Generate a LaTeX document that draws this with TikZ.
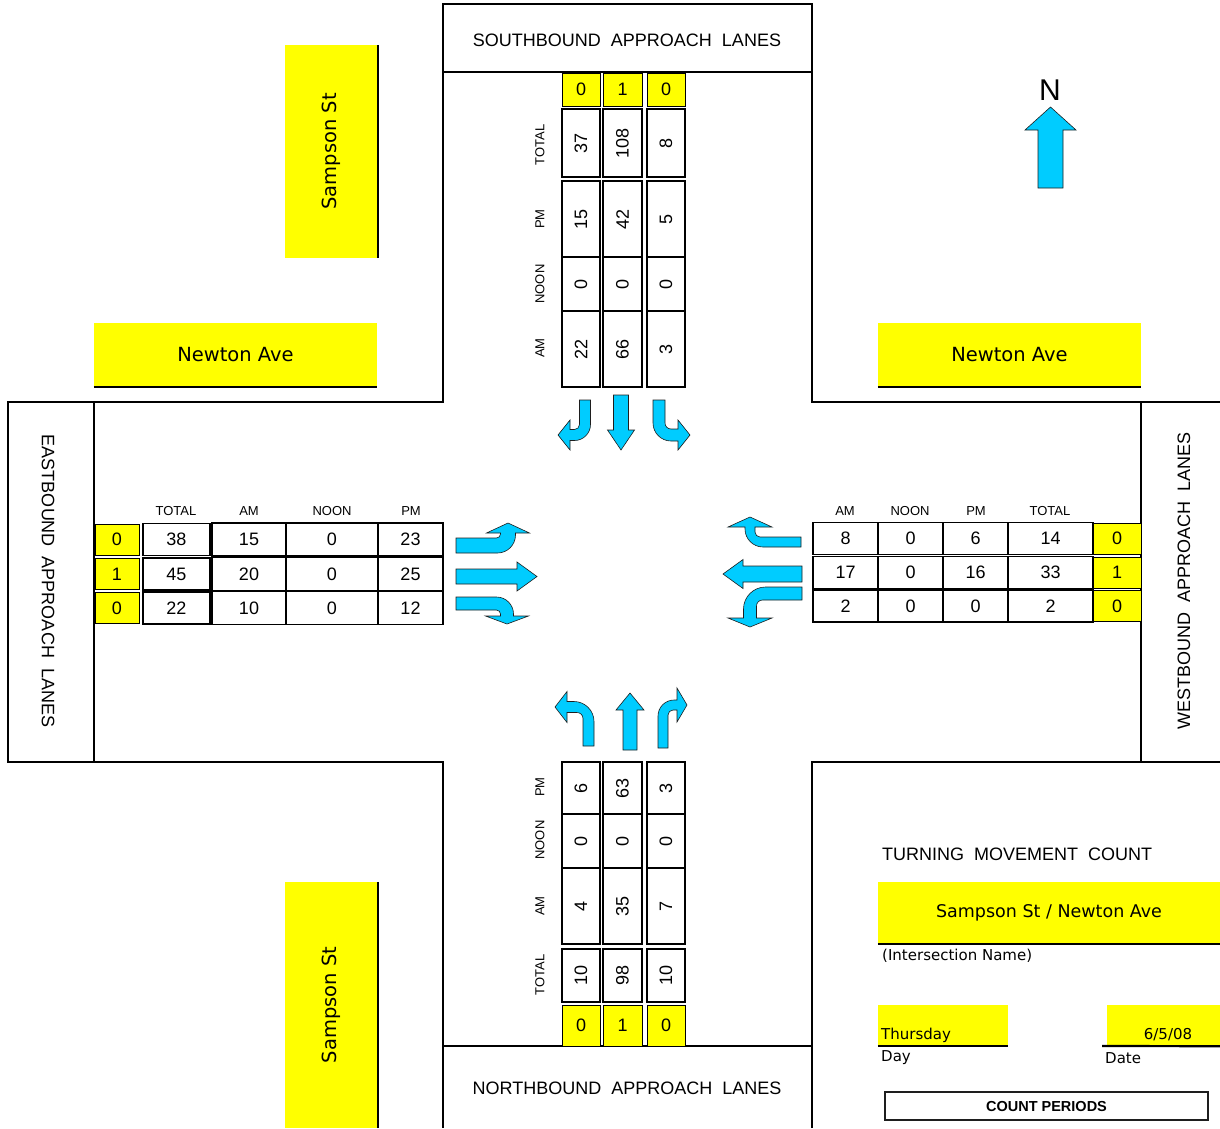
\documentclass[tikz,border=0pt]{standalone}
\usepackage{fontspec}
\setmainfont{Liberation Sans}
\newfontfamily\streetfont{DejaVu Sans}
\usetikzlibrary{positioning}
\definecolor{roadyellow}{RGB}{255,255,0}
\definecolor{arrowcyan}{RGB}{0,204,255}
\definecolor{inkgray}{RGB}{30,30,30}
\tikzset{
    road/.style={draw=black, line width=1.1pt},
    cell/.style={draw=black, line width=1.8pt, inner sep=0pt, font=\fontsize{18}{18}\selectfont},
    lanecell/.style={fill=roadyellow, draw=black, line width=0.4pt, inner sep=0pt, font=\fontsize{18}{18}\selectfont},
    head/.style={inner sep=0pt, font=\fontsize{13}{13}\selectfont},
    street/.style={fill=roadyellow, inner sep=0pt, font=\streetfont\fontsize{19.5}{19.5}\selectfont},
    curb/.style={draw=black, line width=2.2pt},
    title/.style={inner sep=0pt, font=\fontsize{18}{18}\selectfont},
    formtext/.style={inner sep=0pt, font=\streetfont\fontsize{15}{15}\selectfont},
    flow/.style={fill=arrowcyan, draw=inkgray, line width=0.6pt},
}
% turning arrow: transform, shaft half width, length, reach, head half width, head length, outer and inner radius
\newcommand{\turnarrow}[8]{%
    \begin{scope}[#1]
        \draw[flow] (-#2,0) -- (#2,0) -- (#2,{-#3-#2+#7})
            .. controls (#2,{-#3-#2+0.45*#7}) and ({#2-0.45*#7},{-#3-#2}) .. ({#2-#7},{-#3-#2})
            -- ({-#4+#6},{-#3-#2}) -- ({-#4+#6},{-#3-#5}) -- (-#4,-#3)
            -- ({-#4+#6},{-#3+#5}) -- ({-#4+#6},{-#3+#2}) -- ({-#2-#8},{-#3+#2})
            .. controls ({-#2-0.45*#8},{-#3+#2}) and (-#2,{-#3+#2+0.45*#8}) .. (-#2,{-#3+#2+#8})
            -- cycle;
    \end{scope}}
% straight arrow: transform, shaft half width, length, head half width, head length
\newcommand{\straightarrow}[5]{%
    \begin{scope}[#1]
        \draw[flow] (-#2,0) -- (#2,0) -- (#2,{-#3+#5}) -- (#4,{-#3+#5}) -- (0,-#3)
            -- (-#4,{-#3+#5}) -- (-#2,{-#3+#5}) -- cycle;
    \end{scope}}

\begin{document}
\begin{tikzpicture}[x=1pt, y=-1pt]
    \useasboundingbox (0,0) rectangle (1220,1128);

    % road edges
    \draw[road] (443,4) rectangle (812,72);
    \draw[road] (443,72) -- (443,402) -- (8,402) -- (8,762) -- (443,762) -- (443,1128);
    \draw[road] (812,72) -- (812,402) -- (1220,402);
    \draw[road] (812,1128) -- (812,762) -- (1220,762);
    \draw[road] (94,402) -- (94,762);
    \draw[road] (1141,402) -- (1141,762);
    \draw[road] (443,1046) -- (812,1046);

    \node[title] (sbtitle) at (627,40) {SOUTHBOUND\ \ APPROACH\ \ LANES};
    \node[title] (nbtitle) at (627,1088) {NORTHBOUND\ \ APPROACH\ \ LANES};
    \node[title, rotate=-90] (ebtitle) at (48,581) {EASTBOUND\ \ APPROACH\ \ LANES};
    \node[title, rotate=90] (wbtitle) at (1184,581) {WESTBOUND\ \ APPROACH\ \ LANES};

    % street names
    \node[street, minimum width=93, minimum height=213] (sampsonN) at (331.5,151.5) {\rotatebox{90}{Sampson St}};
    \draw[curb] (sampsonN.north east) -- (sampsonN.south east);
    \node[street, minimum width=93, minimum height=246] (sampsonS) at (331.5,1005) {\rotatebox{90}{Sampson St}};
    \draw[curb] (sampsonS.north east) -- (sampsonS.south east);
    \node[street, minimum width=283, minimum height=64] (newtonW) at (235.5,355) {Newton Ave};
    \draw[curb] (newtonW.south west) -- (newtonW.south east);
    \node[street, minimum width=263, minimum height=64] (newtonE) at (1009.5,355) {Newton Ave};
    \draw[curb] (newtonE.south west) -- (newtonE.south east);

    % southbound counts
    \foreach \lid/\xa/\xb/\vlane/\vtot/\vpm/\vnoon/\vam in {a/562/600/0/37/15/0/22, b/603/642/1/108/42/0/66, c/647/685/0/8/5/0/3}{
        \pgfmathsetmacro\xm{(\xa+\xb)/2}
        \pgfmathsetmacro\cw{\xb-\xa}
        \node[lanecell, minimum width=\cw, minimum height=33] (sb-\lid-lane) at (\xm,89.5) {\vlane};
        \node[cell, rotate=90, minimum width=68, minimum height=\cw] (sb-\lid-tot) at (\xm,143) {\vtot};
        \node[cell, rotate=90, minimum width=76, minimum height=\cw] (sb-\lid-pm) at (\xm,219) {\vpm};
        \node[cell, rotate=90, minimum width=54, minimum height=\cw] (sb-\lid-noon) at (\xm,284) {\vnoon};
        \node[cell, rotate=90, minimum width=76, minimum height=\cw] (sb-\lid-am) at (\xm,349) {\vam};
    }
    \node[head, rotate=90] (sbh-tot) at (540,145) {TOTAL};
    \node[head, rotate=90] (sbh-pm) at (540,219) {PM};
    \node[head, rotate=90] (sbh-noon) at (540,284) {NOON};
    \node[head, rotate=90] (sbh-am) at (540,348) {AM};

    % northbound counts
    \foreach \lid/\xa/\xb/\vlane/\vtot/\vpm/\vnoon/\vam in {a/562/600/0/10/6/0/4, b/603/642/1/98/63/0/35, c/647/685/0/10/3/0/7}{
        \pgfmathsetmacro\xm{(\xa+\xb)/2}
        \pgfmathsetmacro\cw{\xb-\xa}
        \node[cell, rotate=90, minimum width=52, minimum height=\cw] (nb-\lid-pm) at (\xm,788) {\vpm};
        \node[cell, rotate=90, minimum width=54, minimum height=\cw] (nb-\lid-noon) at (\xm,841) {\vnoon};
        \node[cell, rotate=90, minimum width=76, minimum height=\cw] (nb-\lid-am) at (\xm,906) {\vam};
        \node[cell, rotate=90, minimum width=53, minimum height=\cw] (nb-\lid-tot) at (\xm,975.5) {\vtot};
        \node[lanecell, minimum width=\cw, minimum height=41] (nb-\lid-lane) at (\xm,1025.5) {\vlane};
    }
    \node[head, rotate=90] (nbh-pm) at (540,787) {PM};
    \node[head, rotate=90] (nbh-noon) at (540,840) {NOON};
    \node[head, rotate=90] (nbh-am) at (540,906) {AM};
    \node[head, rotate=90] (nbh-tot) at (540,975) {TOTAL};

    % eastbound counts
    \foreach \lid/\ym/\vlane/\vtot/\vam/\vnoon/\vpm in {a/539.5/0/38/15/0/23, b/574/1/45/20/0/25, c/608/0/22/10/0/12}{
        \node[lanecell, minimum width=44, minimum height=31] (eb-\lid-lane) at (117,\ym) {\vlane};
        \node[cell, minimum width=67, minimum height=32] (eb-\lid-tot) at (176.5,\ym) {\vtot};
        \node[cell, minimum width=74, minimum height=33] (eb-\lid-am) at (249,\ym) {\vam};
        \node[cell, minimum width=92, minimum height=33] (eb-\lid-noon) at (332,\ym) {\vnoon};
        \node[cell, minimum width=65, minimum height=33] (eb-\lid-pm) at (410.5,\ym) {\vpm};
    }
    \node[head] (ebh-tot) at (176,511) {TOTAL};
    \node[head] (ebh-am) at (249,511) {AM};
    \node[head] (ebh-noon) at (332,511) {NOON};
    \node[head] (ebh-pm) at (411,511) {PM};

    % westbound counts
    \foreach \lid/\ym/\vlane/\vtot/\vam/\vnoon/\vpm in {a/538.5/0/14/8/0/6, b/572.5/1/33/17/0/16, c/606/0/2/2/0/0}{
        \node[cell, minimum width=65, minimum height=32] (wb-\lid-am) at (845.5,\ym) {\vam};
        \node[cell, minimum width=65, minimum height=32] (wb-\lid-noon) at (910.5,\ym) {\vnoon};
        \node[cell, minimum width=65, minimum height=32] (wb-\lid-pm) at (975.5,\ym) {\vpm};
        \node[cell, minimum width=85, minimum height=32] (wb-\lid-tot) at (1050.5,\ym) {\vtot};
        \node[lanecell, minimum width=48, minimum height=31] (wb-\lid-lane) at (1117,\ym) {\vlane};
    }
    \node[head] (wbh-am) at (845,511) {AM};
    \node[head] (wbh-noon) at (910,511) {NOON};
    \node[head] (wbh-pm) at (976,511) {PM};
    \node[head] (wbh-tot) at (1050,511) {TOTAL};

    % movement arrows
    \turnarrow{shift={(585,400)}, yscale=-1}{5.5}{35}{27}{15}{12}{16}{5}
    \straightarrow{shift={(621,395)}, yscale=-1}{7.5}{55}{13.5}{20}
    \turnarrow{shift={(659,400)}, rotate=180}{6}{35}{31}{15}{12}{18}{6}

    \turnarrow{shift={(588.5,746)}}{5.5}{39}{33.5}{15.5}{12}{20}{6}
    \straightarrow{shift={(630,750)}}{7}{57}{14}{17}
    \turnarrow{shift={(663,748)}, xscale=-1}{5}{43}{24}{17}{10}{16}{5}

    \turnarrow{shift={(456,545.5)}, rotate=-90}{7.5}{52}{22.5}{21.5}{10}{18}{4}
    \straightarrow{shift={(456,576.5)}, rotate=-90}{7.5}{81}{14.5}{20}
    \turnarrow{shift={(456,603.5)}, rotate=-90, xscale=-1}{6.5}{51}{20.5}{21.5}{8}{17}{4}

    \turnarrow{shift={(801,542)}, rotate=90, xscale=-1}{5}{51}{25}{22}{10}{18}{5}
    \straightarrow{shift={(802,574)}, rotate=90}{8}{79}{14.5}{20}
    \turnarrow{shift={(802,593.5)}, rotate=90}{6.5}{52}{33.5}{22}{9}{22}{6}

    % north arrow
    \node[inner sep=0pt, font=\fontsize{30}{30}\selectfont] (north) at (1050,90) {N};
    \straightarrow{shift={(1050.5,188)}}{12.5}{81}{25.5}{23}

    % form fields
    \node[title, anchor=west] (tmc) at (882,854) {TURNING\ \ MOVEMENT\ \ COUNT};
    \node[street, font=\streetfont\fontsize{17.5}{17.5}\selectfont, minimum width=342, minimum height=62] (isect) at (1049,913) {Sampson St / Newton Ave};
    \draw[curb] (isect.south west) -- (isect.south east);
    \node[formtext, anchor=west] (isectname) at (882,956) {(Intersection Name)};
    \node[fill=roadyellow, inner sep=0pt, minimum width=130, minimum height=41] (day) at (943,1025.5) {};
    \draw[curb] (day.south west) -- (day.south east);
    \node[formtext, anchor=west] (dayvalue) at (881,1035) {Thursday};
    \node[formtext, anchor=west] (daylabel) at (881,1058) {Day};
    \node[fill=roadyellow, inner sep=0pt, minimum width=113, minimum height=41] (date) at (1163.5,1025.5) {};
    \coordinate (datestart) at (1102,1046);
    \draw[curb] (datestart) -- (date.south east);
    \node[formtext] (datevalue) at (1168,1035) {6/5/08};
    \node[formtext, anchor=west] (datelabel) at (1105,1058) {Date};
    \node[draw=inkgray, line width=1.2pt, inner sep=0pt, minimum width=323, minimum height=28,
          font=\bfseries\fontsize{14.5}{14.5}\selectfont] (periods) at (1046.5,1106) {COUNT PERIODS};
\end{tikzpicture}
\end{document}
